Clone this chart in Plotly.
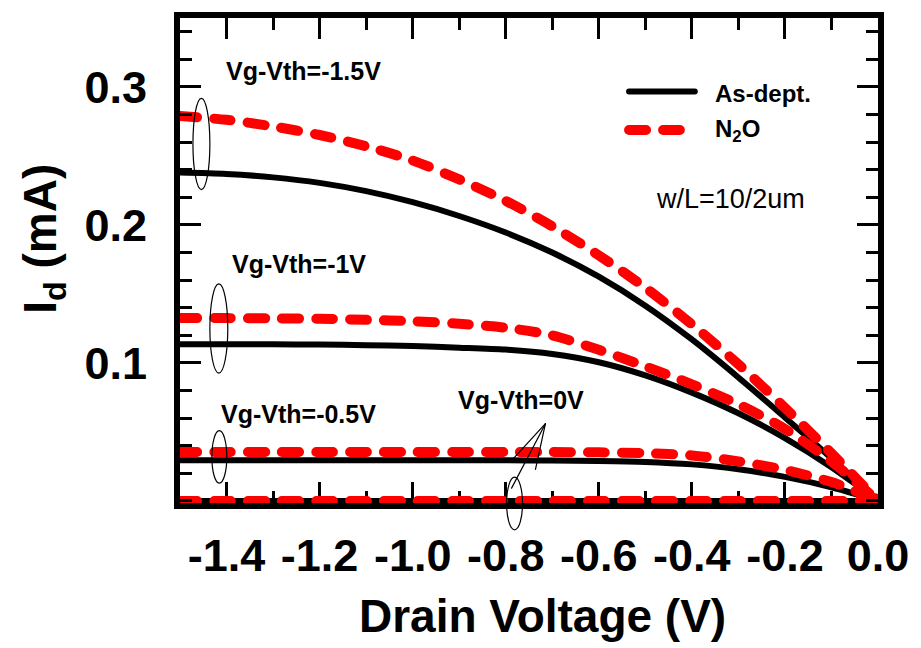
import plotly.graph_objects as go

# Drain voltage grid (V)
vd = [-1.5, -1.4, -1.3, -1.2, -1.1, -1.0, -0.9, -0.8, -0.7, -0.6, -0.5, -0.4, -0.3, -0.2, -0.1, -0.05, 0.0]

# As-deposited (black solid), drain current magnitude (mA)
as_dept_m15 = [0.2380, 0.2370, 0.2345, 0.2305, 0.2245, 0.2165, 0.2065, 0.1945, 0.1800, 0.1625, 0.1415, 0.1170, 0.0895, 0.0605, 0.0310, 0.0156, 0.0]
as_dept_m10 = [0.1136, 0.1136, 0.1135, 0.1133, 0.1129, 0.1122, 0.1111, 0.1097, 0.1065, 0.1005, 0.0910, 0.0785, 0.0635, 0.0455, 0.0245, 0.0125, 0.0]
as_dept_m05 = [0.0295, 0.0295, 0.0295, 0.0295, 0.0295, 0.0295, 0.0295, 0.0294, 0.0293, 0.0290, 0.0283, 0.0265, 0.0230, 0.0174, 0.0099, 0.0052, 0.0]
as_dept_0 = [0.0] * 17

# N2O treated (red dashed)
n2o_m15 = [0.2790, 0.2762, 0.2714, 0.2652, 0.2570, 0.2467, 0.2330, 0.2175, 0.1990, 0.1780, 0.1545, 0.1280, 0.0990, 0.0675, 0.0345, 0.0174, 0.0]
n2o_m10 = [0.1325, 0.1325, 0.1323, 0.1320, 0.1313, 0.1302, 0.1284, 0.1255, 0.1200, 0.1095, 0.0975, 0.0845, 0.0700, 0.0522, 0.0285, 0.0146, 0.0]
n2o_m05 = [0.0355, 0.0355, 0.0355, 0.0355, 0.0355, 0.0355, 0.0355, 0.0355, 0.0354, 0.0352, 0.0346, 0.0330, 0.0286, 0.0225, 0.0137, 0.0074, 0.0]
n2o_0 = [0.0] * 17

x_tickvals = [-1.4, -1.2, -1.0, -0.8, -0.6, -0.4, -0.2, 0.0]
x_ticktext = ["-1.4", "-1.2", "-1.0", "-0.8", "-0.6", "-0.4", "-0.2", "0.0"]
y_tickvals = [0.1, 0.2, 0.3]
y_ticktext = ["0.1", "0.2", "0.3"]

FONT = "Arial, Liberation Sans, sans-serif"

fig = go.Figure()
for ys in [as_dept_m15, as_dept_m10, as_dept_m05, as_dept_0]:
    fig.add_trace(go.Scatter(x=vd, y=ys, mode="lines", cliponaxis=False,
                             line=dict(color="black", width=6, shape="spline", smoothing=0.8),
                             showlegend=False, hoverinfo="skip"))
for ys in [n2o_m15, n2o_m10, n2o_m05, n2o_0]:
    fig.add_trace(go.Scatter(x=vd, y=ys, mode="lines", cliponaxis=False,
                             line=dict(color="#FF0000", width=10, shape="spline", smoothing=0.8,
                                       dash="17px,17px"),
                             showlegend=False, hoverinfo="skip"))

tick_common = dict(ticks="inside", tickcolor="black", tickwidth=2.5, ticklen=21,
                   showline=True, linewidth=6, linecolor="black", mirror="ticks",
                   showgrid=False, zeroline=False,
                   tickfont=dict(family=FONT, size=45, color="black", weight="bold"))

fig.update_xaxes(range=[-1.5, 0.0], tickmode="array", tickvals=x_tickvals, ticktext=x_ticktext,
                 minor=dict(ticks="inside", dtick=0.1, tick0=0, ticklen=12, tickwidth=2.5, tickcolor="black"),
                 layer="below traces", ticklabelstandoff=8, **tick_common)
fig.update_yaxes(range=[-0.0015, 0.35], tickmode="array", tickvals=y_tickvals, ticktext=y_ticktext,
                 minor=dict(ticks="inside", dtick=0.02, tick0=0, ticklen=12, tickwidth=2.5, tickcolor="black"),
                 layer="above traces", ticklabelstandoff=18, **tick_common)

def px(x):
    return (x - 180) / 701.0

def py(y):
    return (503 - y) / 489.0

shapes = []
# ellipses grouping curves
for (x0, x1, y0, y1) in [(193, 210, 95, 187), (210, 228, 282, 372), (212, 227, 430, 483), (508, 524, 477, 530)]:
    shapes.append(dict(type="circle", xref="paper", yref="paper",
                       x0=px(x0), x1=px(x1), y0=py(y1), y1=py(y0),
                       line=dict(color="black", width=1.2)))
# pointer lines for Vg-Vth=0V
for (xe, ye) in [(515, 458), (537, 469), (513, 488)]:
    shapes.append(dict(type="line", xref="paper", yref="paper",
                       x0=px(547), y0=py(423), x1=px(xe), y1=py(ye),
                       line=dict(color="black", width=1.2)))
# custom legend samples
shapes.append(dict(type="line", xref="paper", yref="paper", x0=px(631), x1=px(697), y0=py(88), y1=py(88),
                   line=dict(color="black", width=6)))
shapes.append(dict(type="line", xref="paper", yref="paper", x0=px(631), x1=px(682), y0=py(127), y1=py(127),
                   line=dict(color="#FF0000", width=10, dash="17px,17px")))

annots = []
def ann(text, x, y, size, xanchor="center", bold=True):
    annots.append(dict(text=("<b>%s</b>" % text) if bold else text, xref="paper", yref="paper",
                       x=px(x), y=py(y), xanchor=xanchor, yanchor="middle", showarrow=False,
                       font=dict(family=FONT, size=size, color="black")))

ann("Vg-Vth=-1.5V", 304, 67, 25)
ann("Vg-Vth=-1V", 300, 262, 25)
ann("Vg-Vth=-0.5V", 299, 413, 25)
ann("Vg-Vth=0V", 522, 399, 25)
ann("As-dept.", 715, 90, 24, xanchor="left")
ann("N<sub>2</sub>O", 715, 127, 24, xanchor="left")
ann("w/L=10/2um", 733, 196, 27, bold=False)
ann("Drain Voltage (V)", 544, 617, 46)
annots.append(dict(text="<b>I<sub>d</sub> (mA)</b>", xref="paper", yref="paper",
                   x=px(43), y=py(237), xanchor="center", yanchor="middle", showarrow=False,
                   textangle=-90, font=dict(family=FONT, size=46, color="black")))

fig.update_layout(width=921, height=648, margin=dict(l=180, r=40, t=14, b=145),
                  paper_bgcolor="white", plot_bgcolor="white", showlegend=False,
                  font=dict(family=FONT, color="black"),
                  shapes=shapes, annotations=annots)

post = """
var gd = document.getElementById('{plot_id}');
gd.querySelectorAll('.scatterlayer path.js-line').forEach(function(p){p.style.strokeLinecap='round';});
gd.querySelectorAll('.shapelayer path').forEach(function(p){p.style.strokeLinecap='round';});
"""
fig.write_html("out.html", post_script=post)
